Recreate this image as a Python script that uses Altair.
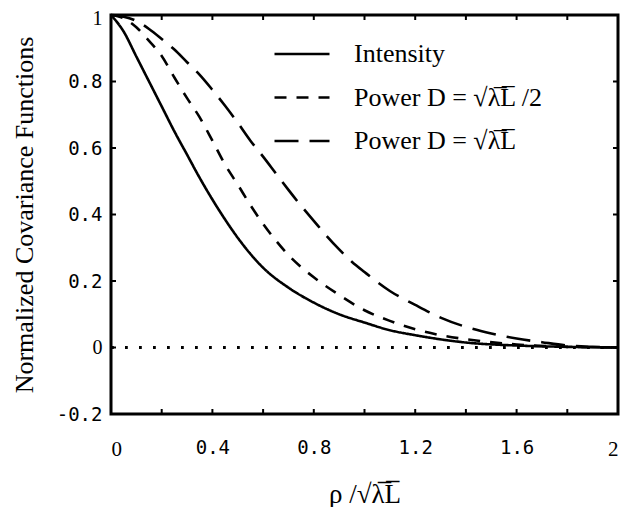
import altair as alt
import pandas as pd

# ---- data ----
series_names = ["Intensity", "Power D = √λ̅L̅ /2", "Power D = √λ̅L̅"]

x_int = [0.00, 0.05, 0.10, 0.15, 0.20, 0.25, 0.30, 0.35, 0.40, 0.45, 0.50, 0.60, 0.70, 0.80,
         0.90, 1.00, 1.10, 1.20, 1.40, 1.60, 1.80, 2.00]
y_int = [1.000, 0.950, 0.875, 0.800, 0.725, 0.650, 0.580, 0.510, 0.445, 0.385, 0.330, 0.240,
         0.180, 0.135, 0.100, 0.075, 0.052, 0.037, 0.015, 0.006, 0.002, 0.000]

x_half = [0.00, 0.05, 0.10, 0.15, 0.20, 0.25, 0.30, 0.35, 0.40, 0.45, 0.50, 0.55, 0.60, 0.65,
          0.70, 0.80, 0.90, 1.00, 1.10, 1.20, 1.30, 1.40, 1.60, 1.80, 2.00]
y_half = [1.000, 0.990, 0.963, 0.922, 0.877, 0.812, 0.750, 0.692, 0.622, 0.550, 0.490, 0.428,
          0.372, 0.322, 0.278, 0.211, 0.158, 0.112, 0.080, 0.055, 0.037, 0.025, 0.009, 0.002, 0.000]

x_full = [0.00, 0.05, 0.10, 0.15, 0.20, 0.25, 0.30, 0.35, 0.40, 0.45, 0.50, 0.55, 0.60, 0.65,
          0.70, 0.75, 0.80, 0.85, 0.90, 0.95, 1.00, 1.10, 1.20, 1.30, 1.40, 1.50, 1.60, 1.70,
          1.80, 1.90, 2.00]
y_full = [1.000, 0.995, 0.982, 0.958, 0.928, 0.896, 0.858, 0.820, 0.775, 0.727, 0.676, 0.622,
          0.574, 0.524, 0.474, 0.426, 0.381, 0.336, 0.295, 0.258, 0.227, 0.170, 0.128, 0.090,
          0.062, 0.042, 0.027, 0.016, 0.006, 0.002, 0.000]

x_tick_labels = [0, 0.4, 0.8, 1.2, 1.6, 2]
y_tick_labels = [-0.2, 0, 0.2, 0.4, 0.6, 0.8, 1]
x_minor = [0.2, 0.4, 0.6, 0.8, 1.0, 1.2, 1.4, 1.6, 1.8]
y_minor = [0, 0.2, 0.4, 0.6, 0.8]

rows = []
for name, xs, ys in zip(series_names, [x_int, x_half, x_full], [y_int, y_half, y_full]):
    for a, b in zip(xs, ys):
        rows.append({"x": a, "y": b, "series": name})
df = pd.DataFrame(rows)

W, H = 507, 399

xscale = alt.Scale(domain=[0, 2], nice=False, zero=False)
yscale = alt.Scale(domain=[-0.2, 1], nice=False, zero=False)

serif_test = "datum.value == 0 || datum.value == 1 || datum.value == 2"

x_axis = alt.Axis(
    values=x_tick_labels, ticks=False, domain=False, grid=False, tickSize=0,
    labelFont={"condition": {"test": serif_test, "value": "Liberation Serif"}, "value": "DejaVu Sans Mono"},
    labelFontSize={"condition": {"test": serif_test, "value": 21}, "value": 19},
    labelColor="black", labelPadding=24, labelExpr="'' + datum.value",
    title="ρ /√λ̅L̅", titleFont="Liberation Serif", titleFontSize=27, titleFontWeight="normal",
    titleColor="black", titleY=88, titleBaseline="alphabetic",
)
y_axis = alt.Axis(
    values=y_tick_labels, ticks=False, domain=False, grid=False, tickSize=0,
    labelFont={"condition": {"test": serif_test, "value": "Liberation Serif"}, "value": "DejaVu Sans Mono"},
    labelFontSize={"condition": {"test": serif_test, "value": 20}, "value": 19},
    labelOffset={"condition": {"test": "datum.value == 1", "value": 3}, "value": 0},
    labelColor="black", labelPadding=9, labelExpr="'' + datum.value",
    title="Normalized Covariance Functions", titleFont="Liberation Serif", titleFontSize=26,
    titleFontWeight="normal", titleColor="black", titleX=-79, titleY=H / 2,
    titleBaseline="alphabetic",
)

lines = alt.Chart(df).mark_line(color="black", strokeWidth=2.6, interpolate="monotone").encode(
    x=alt.X("x:Q", scale=xscale, axis=x_axis),
    y=alt.Y("y:Q", scale=yscale, axis=y_axis),
    strokeDash=alt.StrokeDash(
        "series:N",
        scale=alt.Scale(domain=series_names, range=[[1, 0], [12, 10], [24, 11]]),
        legend=alt.Legend(
            orient="none", legendX=162, legendY=29, title=None, symbolType="stroke",
            symbolSize=3025, symbolStrokeWidth=2.7, symbolStrokeColor="black",
            labelFont="Liberation Serif", labelFontSize=26, labelColor="black",
            labelOffset=23, clipHeight=20, rowPadding=17.5, padding=0, labelLimit=400,
        ),
    ),
    order="x:Q",
)

zero_df = pd.DataFrame({"x0": [0], "x1": [2], "y": [0]})
zero_line = alt.Chart(zero_df).mark_rule(color="black", strokeWidth=2.8, strokeDash=[2.8, 11.2]).encode(
    x=alt.X("x0:Q", scale=xscale), x2="x1:Q", y=alt.Y("y:Q", scale=yscale)
)

xt = pd.DataFrame({"v": x_minor})
yt = pd.DataFrame({"v": y_minor})
tick_bottom = alt.Chart(xt).mark_rule(color="black", strokeWidth=2).encode(
    x=alt.X("v:Q", scale=xscale), y=alt.value(H), y2=alt.value(H - 5))
tick_top = alt.Chart(xt).mark_rule(color="black", strokeWidth=2).encode(
    x=alt.X("v:Q", scale=xscale), y=alt.value(0), y2=alt.value(5))
tick_left = alt.Chart(yt).mark_rule(color="black", strokeWidth=2).encode(
    y=alt.Y("v:Q", scale=yscale), x=alt.value(0), x2=alt.value(5))
tick_right = alt.Chart(yt).mark_rule(color="black", strokeWidth=2).encode(
    y=alt.Y("v:Q", scale=yscale), x=alt.value(W), x2=alt.value(W - 5))

chart = alt.layer(zero_line, lines, tick_bottom, tick_top, tick_left, tick_right).properties(
    width=W, height=H,
    background="white",
    autosize=alt.AutoSizeParams(type="none"),
    padding={"left": 103, "top": 7, "right": 3, "bottom": 93},
).configure_view(stroke="black", strokeWidth=3)

chart.save("out.html", embed_options={"renderer": "svg", "actions": False})
